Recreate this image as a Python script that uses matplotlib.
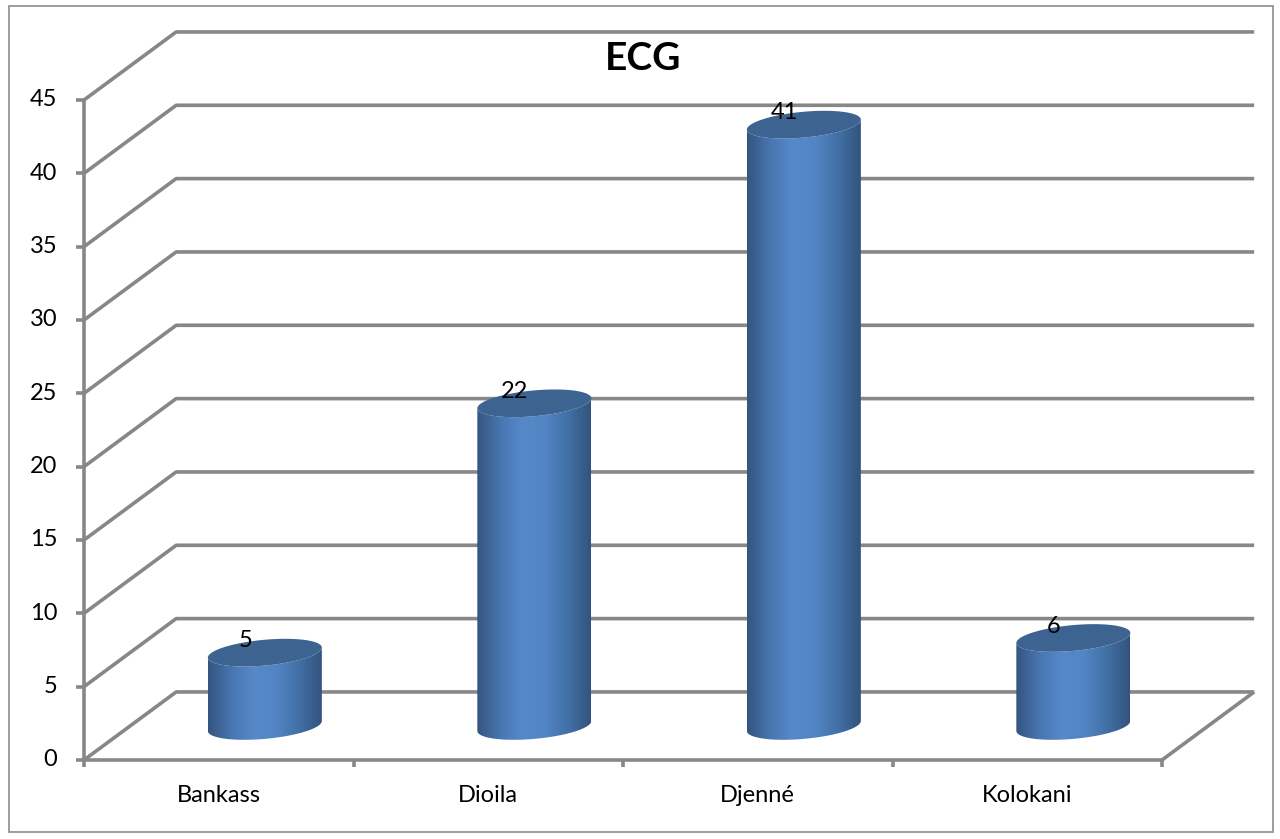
import numpy as np
import matplotlib.pyplot as plt
from matplotlib.patches import Polygon, Rectangle
from matplotlib.colors import LinearSegmentedColormap

plt.rcParams['font.family'] = ['Lato', 'DejaVu Sans']

categories = ["Bankass", "Dioila", "Djenné", "Kolokani"]
values = [5, 22, 41, 6]
y_ticks = [0, 5, 10, 15, 20, 25, 30, 35, 40, 45]
title = "ECG"

# 3d look: depth offset of the back wall (category units, value units)
DX, DY = 0.342, 4.64
GRID = "#878787"
cyl_cmap = LinearSegmentedColormap.from_list(
    "cyl", ["#34557f", "#4875b0", "#5689c9", "#5385c4", "#4270a6", "#33537d"])
TOP_COLOR = "#3d6390"

fig = plt.figure(figsize=(12.8, 8.39), dpi=100)
ax = fig.add_axes([84 / 1280, 79 / 839, 1078 / 1280, 660 / 839])
ax.set_xlim(0, len(categories))
ax.set_ylim(0, y_ticks[-1])
ax.axis("off")

# outer border
fig.patches.append(Rectangle((9 / 1280, 1 - 832 / 839), 1264 / 1280, 826 / 839,
                             transform=fig.transFigure, fill=False,
                             edgecolor="#8c8c8c", lw=1.2))

n = len(categories)
kw = dict(color=GRID, lw=2.6, clip_on=False, solid_capstyle="butt", zorder=1)
for v in y_ticks:
    ax.plot([0, DX, n + DX], [v, v + DY, v + DY], **kw)
    ax.plot([-0.03, 0], [v, v], **kw)
    ax.text(-0.1, v, str(v), ha="right", va="center", fontsize=17)
ax.plot([0, 0], [0, y_ticks[-1]], **kw)
ax.plot([0, n, n + DX], [0, 0, DY], **kw)
for i in range(n + 1):
    ax.plot([i, i], [0, -0.5], **kw)
for i, c in enumerate(categories):
    ax.text(i + 0.5, -2.45, c, ha="center", va="center", fontsize=17)

# cylinders
half_w = 0.2115
b = 0.88      # ellipse half height (value units)
slant = 0.34  # right side sits higher than left
th = np.linspace(np.pi, 2 * np.pi, 80)
th_full = np.linspace(0, 2 * np.pi, 160)
grad = np.linspace(0, 1, 256).reshape(1, -1)
for i, v in enumerate(values):
    cx = i + 0.5 + DX / 2
    base = DY / 2
    top = v + DY / 2
    bx = cx + half_w * np.cos(th)
    by_bot = base + b * np.sin(th) + slant * np.cos(th)
    by_top = top + b * np.sin(th) + slant * np.cos(th)
    pts = np.vstack([np.column_stack([bx, by_bot]),
                     np.column_stack([bx[::-1], by_top[::-1]])])
    body = Polygon(pts, closed=True, facecolor="none", edgecolor="none",
                   transform=ax.transData)
    ax.add_patch(body)
    im = ax.imshow(grad, cmap=cyl_cmap, aspect="auto", zorder=3,
                   extent=[cx - half_w, cx + half_w, base - 2, top + 2])
    im.set_clip_path(body)
    tx = cx + half_w * np.cos(th_full)
    ty = top + b * np.sin(th_full) + slant * np.cos(th_full)
    ax.add_patch(Polygon(np.column_stack([tx, ty]), closed=True,
                         facecolor=TOP_COLOR, edgecolor="none", zorder=4,
                         clip_on=False))
    ax.text(cx - 0.072, top + 0.8, str(v), ha="center", va="center",
            fontsize=17, zorder=5)

ax.set_xlim(0, n)
ax.set_ylim(0, y_ticks[-1])

fig.text(643 / 1280, 1 - 58 / 839, title, ha="center", va="center",
         fontsize=28, fontweight="bold")

fig.savefig("out.png", dpi=100)
